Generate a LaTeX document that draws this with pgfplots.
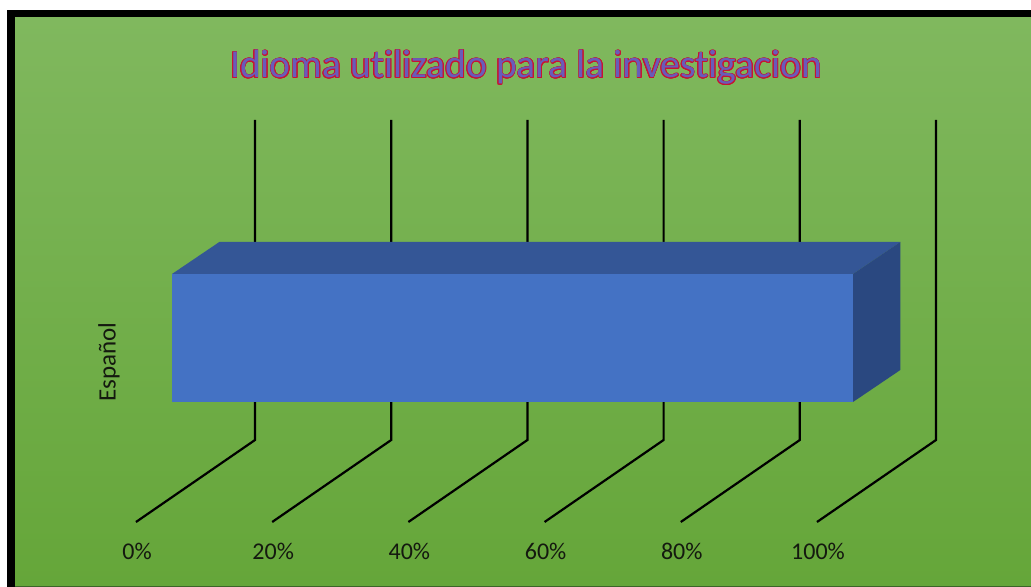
\documentclass[border=0pt]{standalone}
\usepackage{pgfplots}
\pgfplotsset{compat=1.18}
\usepackage{fontspec}
\setmainfont{Carlito}[Ligatures={NoCommon}]
\usepackage{contour}
\contourlength{0.35pt}
\definecolor{gtop}{RGB}{128,184,94}
\definecolor{gbot}{RGB}{101,166,57}
\definecolor{gdark}{RGB}{60,100,40}
\definecolor{barfront}{RGB}{68,114,196}
\definecolor{bartop}{RGB}{52,86,150}
\definecolor{barside}{RGB}{42,72,128}
\definecolor{titlefill}{RGB}{104,92,186}
\definecolor{titleline}{RGB}{200,20,50}
\definecolor{labelc}{RGB}{20,25,15}
\begin{document}
\begin{tikzpicture}
\begin{axis}[
  scale only axis,
  hide axis,
  x=3.405pt, y=0.5pt,
  xmin=-25.257, xmax=126.138,
  ymin=0, ymax=587,
  clip=false,
]
% background and frame
\fill[white] (axis cs:-25.257,0) rectangle (axis cs:126.138,587);
\fill[black] (axis cs:-24.229,0) rectangle (axis cs:126.138,577);
\shade[top color=gtop, bottom color=gbot] (axis cs:-23.054,1) rectangle (axis cs:126.138,569);
\fill[gdark] (axis cs:-23.054,0) rectangle (axis cs:126.138,1);
% gridlines (back wall and floor)
\addplot[black, line width=1.1pt] coordinates {(12.19,467) (12.19,147) (-5.29,65)};
\addplot[black, line width=1.1pt] coordinates {(32.19,467) (32.19,147) (14.71,65)};
\addplot[black, line width=1.1pt] coordinates {(52.19,467) (52.19,147) (34.71,65)};
\addplot[black, line width=1.1pt] coordinates {(72.19,467) (72.19,147) (54.71,65)};
\addplot[black, line width=1.1pt] coordinates {(92.19,467) (92.19,147) (74.71,65)};
\addplot[black, line width=1.1pt] coordinates {(112.19,467) (112.19,147) (94.71,65)};
% bar: Español = 100%
\addplot[fill=bartop, draw=none] coordinates {(0,313) (100,313) (106.95,345) (6.95,345)} -- cycle;
\addplot[fill=barside, draw=none] coordinates {(100,313) (106.95,345) (106.95,217) (100,185)} -- cycle;
\addplot[fill=barfront, draw=none] coordinates {(0,185) (100,185) (100,313) (0,313)} -- cycle;
% labels
\node[font=\fontsize{19.8}{22}\selectfont, text=titlefill] at (axis cs:52.0,519) {\contour{titleline}{Idioma utilizado para la investigacion}};
\node[font=\fontsize{12.5}{14}\selectfont, text=labelc, rotate=90] at (axis cs:-9.25,225) {Español};
\node[font=\fontsize{12}{14}\selectfont, text=labelc] at (axis cs:-5.14,36) {0\%};
\node[font=\fontsize{12}{14}\selectfont, text=labelc] at (axis cs:14.86,36) {20\%};
\node[font=\fontsize{12}{14}\selectfont, text=labelc] at (axis cs:34.86,36) {40\%};
\node[font=\fontsize{12}{14}\selectfont, text=labelc] at (axis cs:54.86,36) {60\%};
\node[font=\fontsize{12}{14}\selectfont, text=labelc] at (axis cs:74.86,36) {80\%};
\node[font=\fontsize{12}{14}\selectfont, text=labelc] at (axis cs:94.86,36) {100\%};
\end{axis}
\end{tikzpicture}
\end{document}
